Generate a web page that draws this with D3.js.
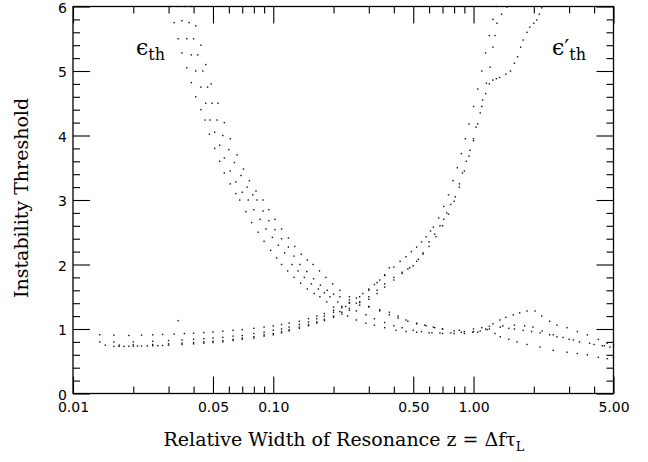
<!DOCTYPE html>
<html>
<head>
<meta charset="utf-8">
<script src="https://cdn.jsdelivr.net/npm/d3@7"></script>
<style>
  body { margin: 0; background: #fff; }
  .tick text { font-family: "DejaVu Sans", sans-serif; font-size: 14px; fill: #000; }
  .ttl { font-family: "DejaVu Serif", serif; font-size: 19px; fill: #000; }
</style>
</head>
<body>
<div id="chart"></div>
<script>
// x ticks (log scale) and y ticks
const xMajor = [0.01, 0.05, 0.1, 0.5, 1, 5];
const xMinor = [0.02, 0.03, 0.04, 0.06, 0.07, 0.08, 0.09, 0.2, 0.3, 0.4, 0.6, 0.7, 0.8, 0.9, 2, 3, 4];
const yMajor = [0, 1, 2, 3, 4, 5, 6];
const yMinor = [0.2, 0.4, 0.6, 0.8, 1.2, 1.4, 1.6, 1.8, 2.2, 2.4, 2.6, 2.8, 3.2, 3.4, 3.6, 3.8,
                4.2, 4.4, 4.6, 4.8, 5.2, 5.4, 5.6, 5.8];

// falling curves (epsilon_th), [z, threshold]
const fall1 = [[0.0305,6.0],[0.032,5.75],[0.0335,5.5],[0.035,5.28],[0.037,5.05],[0.039,4.82],[0.041,4.6],
  [0.0435,4.4],[0.0456,4.24],[0.048,4.02],[0.051,3.8],[0.054,3.6],[0.057,3.42],[0.061,3.25],[0.065,3.1],
  [0.068,3.0],[0.073,2.82],[0.078,2.65],[0.084,2.5],[0.09,2.36],[0.097,2.22],[0.104,2.1],[0.11,2.0],
  [0.118,1.9],[0.127,1.8],[0.137,1.71],[0.148,1.62],[0.16,1.55],[0.171,1.5],[0.185,1.42],[0.2,1.34],
  [0.215,1.27],[0.235,1.2],[0.26,1.14],[0.29,1.09],[0.32,1.06],[0.36,1.02],[0.41,0.98],[0.46,0.96],
  [0.52,0.95],[0.6,0.94],[0.68,0.94],[0.77,0.94],[0.87,0.95],[0.99,0.95],[1.08,0.97],[1.17,0.99],
  [1.28,0.93],[1.36,0.88],[1.5,0.84],[1.65,0.8],[1.85,0.76],[2.15,0.72],[2.5,0.67],[2.93,0.64],
  [3.3,0.62],[3.7,0.6],[4.2,0.56],[4.65,0.54],[5.0,0.56]];
const fall2 = [[0.0334,6.0],[0.035,5.78],[0.037,5.5],[0.039,5.25],[0.041,5.0],[0.0435,4.75],[0.046,4.5],
  [0.0483,4.24],[0.051,4.05],[0.054,3.85],[0.057,3.65],[0.061,3.45],[0.065,3.28],[0.07,3.12],[0.075,3.0],
  [0.08,2.85],[0.086,2.7],[0.092,2.55],[0.099,2.42],[0.106,2.3],[0.114,2.18],[0.124,2.0],[0.133,1.9],
  [0.143,1.8],[0.155,1.7],[0.168,1.62],[0.18,1.56],[0.192,1.5],[0.21,1.42],[0.23,1.35],[0.26,1.28],
  [0.29,1.22],[0.32,1.16],[0.36,1.1],[0.4,1.05],[0.44,1.02],[0.5,0.98],[0.55,0.96],[0.62,0.94],
  [0.7,0.93],[0.8,0.93],[0.9,0.93],[1.05,0.95],[1.2,1.0],[1.36,1.03],[1.5,1.01],[1.6,1.0],[1.77,0.98],
  [1.95,0.96],[2.15,0.94],[2.4,0.91],[2.61,0.88],[3.0,0.84],[3.38,0.8],[4.0,0.76],[4.4,0.74],[4.8,0.72]];
const fall3 = [[0.0362,6.0],[0.038,5.75],[0.04,5.5],[0.042,5.25],[0.0445,5.0],[0.047,4.75],[0.0495,4.5],
  [0.0524,4.24],[0.056,4.0],[0.06,3.78],[0.064,3.58],[0.069,3.38],[0.074,3.2],[0.079,3.08],[0.083,3.0],
  [0.089,2.83],[0.095,2.68],[0.102,2.54],[0.11,2.4],[0.119,2.27],[0.127,2.13],[0.136,2.0],[0.147,1.89],
  [0.159,1.78],[0.172,1.68],[0.186,1.6],[0.2,1.54],[0.215,1.5],[0.24,1.45],[0.26,1.4],[0.3,1.34],
  [0.34,1.3],[0.38,1.26],[0.42,1.2],[0.46,1.14],[0.52,1.09],[0.57,1.06],[0.63,1.03],[0.7,1.0],
  [0.8,0.97],[0.9,0.96],[1.0,0.96],[1.15,1.0],[1.25,1.08],[1.355,1.14],[1.45,1.18],[1.58,1.22],
  [1.7,1.25],[1.85,1.28],[2.03,1.28],[2.19,1.2],[2.4,1.12],[2.61,1.06],[2.93,1.02],[3.3,0.96],
  [3.7,0.91],[4.2,0.84],[4.65,0.78],[5.0,0.76]];
const fall4 = [[0.039,6.0],[0.041,5.7],[0.0435,5.4],[0.046,5.1],[0.049,4.8],[0.053,4.5],[0.057,4.2],
  [0.061,3.95],[0.066,3.7],[0.071,3.48],[0.076,3.3],[0.082,3.14],[0.089,3.0],[0.095,2.85],[0.102,2.7],
  [0.11,2.55],[0.119,2.41],[0.128,2.28],[0.138,2.16],[0.148,2.07],[0.158,2.0],[0.17,1.9],[0.183,1.8],
  [0.198,1.7],[0.215,1.6],[0.24,1.5],[0.27,1.42],[0.3,1.35],[0.34,1.28],[0.38,1.22],[0.42,1.17],
  [0.47,1.12],[0.52,1.08],[0.58,1.05],[0.64,1.02],[0.7,1.0],[0.85,0.98],[1.0,1.0],[1.1,1.02],[1.2,1.04],
  [1.4,1.05],[1.6,1.06],[1.8,1.05],[1.98,1.03],[2.2,0.97],[2.5,0.91],[2.8,0.87],[3.15,0.83],[3.8,0.78],
  [4.5,0.74],[5.0,0.72]];

// rising curves (epsilon'_th)
const rise0 = [[0.0136,0.91],[0.016,0.905],[0.019,0.9],[0.022,0.905],[0.025,0.91],[0.028,0.915],[0.032,0.92],
  [0.036,0.93],[0.04,0.935],[0.045,0.945],[0.05,0.955],[0.056,0.965],[0.063,0.98],[0.07,0.99],[0.08,1.01],
  [0.09,1.03],[0.1,1.05],[0.11,1.07],[0.12,1.09],[0.135,1.12],[0.15,1.16],[0.165,1.2],[0.18,1.24],
  [0.2,1.29],[0.22,1.35],[0.24,1.41],[0.26,1.48],[0.28,1.55],[0.3,1.62],[0.32,1.69],[0.34,1.76],
  [0.36,1.84],[0.38,1.95]];
const rise1 = [[0.0136,0.8],[0.016,0.8],[0.02,0.8],[0.025,0.81],[0.03,0.82],[0.035,0.83],[0.04,0.84],
  [0.045,0.85],[0.05,0.86],[0.056,0.87],[0.063,0.89],[0.07,0.9],[0.08,0.93],[0.09,0.95],[0.1,0.98],
  [0.11,1.0],[0.12,1.03],[0.135,1.07],[0.15,1.11],[0.165,1.16],[0.18,1.2],[0.2,1.26],[0.22,1.33],
  [0.24,1.4],[0.27,1.5],[0.3,1.6],[0.33,1.72],[0.36,1.83],[0.4,1.96],[0.43,2.05],[0.46,2.12],[0.49,2.2],
  [0.52,2.27],[0.55,2.35],[0.58,2.43],[0.61,2.52],[0.63,2.58],[0.67,2.72],[0.71,2.9],[0.75,3.08],
  [0.79,3.3],[0.83,3.5],[0.87,3.72],[0.91,3.95],[0.95,4.18],[1.0,4.45],[1.05,4.72],[1.1,5.0],
  [1.15,5.28],[1.2,5.55],[1.25,5.8],[1.3,6.0]];
const rise2 = [[0.0145,0.75],[0.017,0.75],[0.02,0.755],[0.025,0.76],[0.03,0.77],[0.035,0.78],[0.04,0.79],
  [0.045,0.8],[0.05,0.81],[0.056,0.82],[0.063,0.84],[0.07,0.86],[0.08,0.88],[0.09,0.91],[0.1,0.93],
  [0.11,0.96],[0.12,0.99],[0.135,1.03],[0.15,1.07],[0.165,1.11],[0.18,1.15],[0.2,1.2],[0.22,1.26],
  [0.24,1.32],[0.27,1.41],[0.3,1.5],[0.33,1.6],[0.36,1.7],[0.4,1.8],[0.44,1.88],[0.47,1.93],[0.5,1.98],
  [0.53,2.08],[0.56,2.18],[0.6,2.35],[0.64,2.47],[0.68,2.6],[0.71,2.7],[0.735,2.8],[0.77,2.93],
  [0.81,3.05],[0.85,3.25],[0.88,3.42],[0.92,3.6],[0.96,3.77],[1.0,3.95],[1.03,4.13],[1.08,4.35],
  [1.11,4.55],[1.16,4.81],[1.21,5.06],[1.25,5.37],[1.28,5.55],[1.31,5.74],[1.38,5.88],[1.47,5.99]];
const rise3 = [[0.016,0.73],[0.017,0.73],[0.018,0.73],[0.019,0.732],[0.02,0.735],[0.021,0.735],[0.022,0.735],
  [0.0235,0.738],[0.025,0.74],[0.0265,0.742],[0.028,0.745],[0.03,0.75],[0.035,0.76],[0.04,0.77],
  [0.045,0.78],[0.05,0.79],[0.056,0.8],[0.063,0.82],[0.07,0.84],[0.08,0.86],[0.09,0.89],[0.1,0.91],
  [0.11,0.94],[0.12,0.97],[0.135,1.01],[0.15,1.05],[0.165,1.09],[0.18,1.13],[0.2,1.18],[0.22,1.23],
  [0.24,1.29],[0.27,1.37],[0.3,1.46],[0.33,1.55],[0.36,1.65],[0.4,1.76],[0.44,1.86],[0.48,1.95],
  [0.52,2.05],[0.56,2.16],[0.6,2.28],[0.65,2.43],[0.7,2.6],[0.75,2.78],[0.8,2.98],[0.85,3.2],[0.9,3.45],
  [0.95,3.68],[1.0,3.92],[1.05,4.18],[1.1,4.45],[1.15,4.65],[1.2,4.8],[1.25,4.86],[1.3,4.88],[1.35,4.9],
  [1.45,4.95],[1.53,5.0],[1.6,5.12],[1.66,5.22],[1.72,5.37],[1.77,5.48],[1.85,5.6],[1.91,5.68],
  [2.0,5.74],[2.07,5.79],[2.13,5.88],[2.19,5.98]];
const stray = [[0.0335,1.13]];

const allSeries = [fall1, fall2, fall3, fall4, rise0, rise1, rise2, rise3, stray];

const svgWidth = 648, svgHeight = 462;
const margin = { top: 6.5, right: 34.5, bottom: 68.5, left: 73 };
const width = svgWidth - margin.left - margin.right;
const height = svgHeight - margin.top - margin.bottom;

const svg = d3.select("#chart").append("svg")
  .attr("width", svgWidth)
  .attr("height", svgHeight);

const g = svg.append("g")
  .attr("transform", `translate(${margin.left}, ${margin.top})`);

const x = d3.scaleLog().domain([0.01, 5]).range([0, width]);
const y = d3.scaleLinear().domain([0, 6]).range([height, 0]);

const fmt = d3.format(".2f");

function styleAxis(sel) {
  sel.select(".domain").remove();
  sel.selectAll(".tick line").attr("stroke", "#000").attr("stroke-width", 1.1);
}

// bottom: labels + major ticks
g.append("g").attr("transform", `translate(0, ${height})`)
  .call(d3.axisBottom(x).tickValues(xMajor).tickFormat(fmt).tickSize(-17).tickPadding(9))
  .call(styleAxis);
g.append("g").attr("transform", `translate(0, ${height})`)
  .call(d3.axisBottom(x).tickValues(xMinor).tickFormat("").tickSize(-7))
  .call(styleAxis);
// top
g.append("g")
  .call(d3.axisTop(x).tickValues(xMajor).tickFormat("").tickSize(-17))
  .call(styleAxis);
g.append("g")
  .call(d3.axisTop(x).tickValues(xMinor).tickFormat("").tickSize(-7))
  .call(styleAxis);
// left
g.append("g")
  .call(d3.axisLeft(y).tickValues(yMajor).tickFormat(d3.format("d")).tickSize(-17).tickPadding(6))
  .call(styleAxis)
  .call(a => a.selectAll(".tick text").attr("dy", "0.4em"));
g.append("g")
  .call(d3.axisLeft(y).tickValues(yMinor).tickFormat("").tickSize(-7))
  .call(styleAxis);
// right
g.append("g").attr("transform", `translate(${width}, 0)`)
  .call(d3.axisRight(y).tickValues(yMajor).tickFormat("").tickSize(-17))
  .call(styleAxis);
g.append("g").attr("transform", `translate(${width}, 0)`)
  .call(d3.axisRight(y).tickValues(yMinor).tickFormat("").tickSize(-7))
  .call(styleAxis);

// frame
g.append("rect")
  .attr("width", width).attr("height", height)
  .attr("fill", "none").attr("stroke", "#000").attr("stroke-width", 1.3);

// dots
allSeries.forEach(s => {
  g.append("g").selectAll("rect")
    .data(s)
    .enter()
    .append("rect")
    .attr("x", d => x(d[0]) - 0.7)
    .attr("y", d => y(d[1]) - 0.7)
    .attr("width", 1.4)
    .attr("height", 1.4)
    .attr("fill", "#111");
});

// curve labels
const lab1 = svg.append("text").attr("class", "ttl").attr("x", 136).attr("y", 55);
lab1.append("tspan").attr("font-size", 22).text("ϵ");
lab1.append("tspan").attr("font-size", 16).attr("dy", 5).text("th");

const lab2 = svg.append("text").attr("class", "ttl").attr("x", 552).attr("y", 55);
lab2.append("tspan").attr("font-size", 22).text("ϵ′");
lab2.append("tspan").attr("font-size", 16).attr("dy", 5).text("th");

// axis titles
const xt = svg.append("text").attr("class", "ttl")
  .attr("x", 344).attr("y", 446).attr("text-anchor", "middle");
xt.append("tspan").text("Relative Width of Resonance z = Δfτ");
xt.append("tspan").attr("font-size", 13).attr("dy", 5).text("L");

svg.append("text").attr("class", "ttl")
  .attr("transform", "translate(28, 198) rotate(-90)")
  .attr("text-anchor", "middle")
  .text("Instability Threshold");
</script>
</body>
</html>
